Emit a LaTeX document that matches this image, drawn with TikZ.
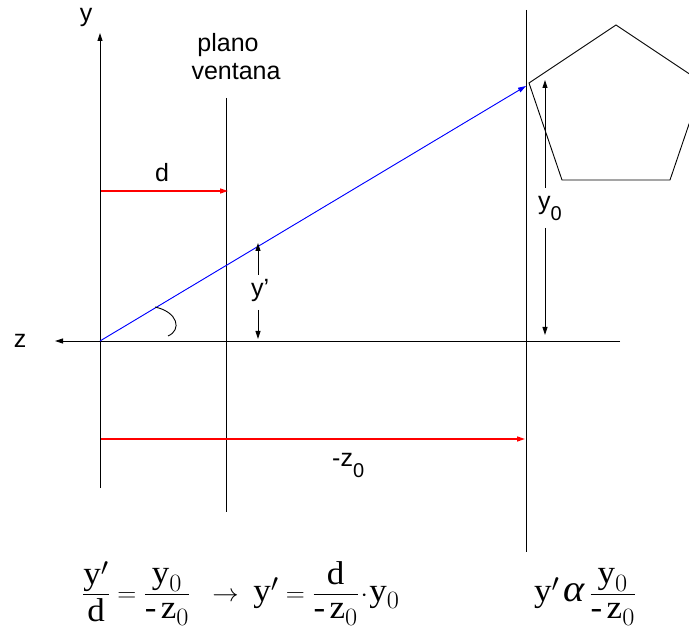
\documentclass[tikz,border=0pt]{standalone}
\usepackage{amsmath}
\usepackage{graphicx}
\usepackage{fontspec}
\setmainfont{Liberation Serif}
\newfontfamily\lab{Liberation Sans}
\usetikzlibrary{arrows.meta}
\newcommand\lsub[1]{\raisebox{-11pt}{\fontsize{20}{20}\selectfont #1}}
\newcommand\alf{\mbox{\fontsize{38}{38}\selectfont\itshape α}}
\begin{document}
\begin{tikzpicture}[x=1pt,y=-1pt,
  ln/.style={line width=0.9pt, draw=black},
  arr/.style={line width=0.9pt, -{Triangle[length=8pt,width=5pt]}},
  redarr/.style={arr, line width=1.4pt, draw=red, fill=red, color=red},
  bluearr/.style={arr, draw=blue, fill=blue, color=blue},
  lbl/.style={font=\lab\fontsize{25}{30}\selectfont, inner sep=0pt, anchor=base},
  frm/.style={font=\fontsize{33}{40}\selectfont, inner sep=0pt, anchor=base west}]
\useasboundingbox (0,0) rectangle (689,631);
% coordinates
\coordinate (O) at (100,341);
\coordinate (ytop) at (100,33);
\coordinate (ybot) at (100,488);
\coordinate (zl) at (55,341);
\coordinate (zr) at (620,341);
\coordinate (wt) at (226,98);
\coordinate (wb) at (226,512);
\coordinate (it) at (526,10);
\coordinate (ib) at (526,552);
\coordinate (P) at (526,86);
\coordinate (ds) at (101,191);
\coordinate (de) at (228,191);
\coordinate (zs) at (101,439);
\coordinate (ze) at (525,439);
\coordinate (ypa) at (258,275);
\coordinate (ypb) at (258,243);
\coordinate (ypc) at (258,310);
\coordinate (ypd) at (258,339);
\coordinate (y0a) at (545,188);
\coordinate (y0b) at (545,80);
\coordinate (y0c) at (545,228);
\coordinate (y0d) at (545,335);
% lines
\draw[arr] (ybot) -- (ytop);
\draw[arr] (zr) -- (zl);
\draw[ln] (wt) -- (wb);
\draw[ln] (it) -- (ib);
\draw[redarr] (ds) -- (de);
\draw[redarr] (zs) -- (ze);
\draw[bluearr] (O) -- (P);
\draw[ln] (155,307) .. controls (178,312) and (182,330) .. (168,336);
\draw[arr] (ypa) -- (ypb);
\draw[arr] (ypc) -- (ypd);
\draw[arr] (y0a) -- (y0b);
\draw[arr] (y0c) -- (y0d);
\begin{scope}
\clip (0,0) rectangle (689,631);
\draw[ln] (529,83) -- (616,25) -- (703,83) -- (670,180) -- (562,180) -- cycle;
\end{scope}
% labels
\node[lbl] (ly) at (86,22) {y};
\node[lbl] (lz) at (20,348) {z};
\node[lbl] (lpl) at (228,52) {plano};
\node[lbl] (lve) at (236,80) {ventana};
\node[lbl] (ld) at (162,182) {d};
\node[lbl, anchor=base west] (lyp) at (251,297) {y’};
\node[lbl, anchor=base west] (ly0) at (538,210) {y\lsub{0}};
\node[lbl, anchor=base west] (lz0) at (332,467) {-z\lsub{0}};
% formulas
\node[frm] (f1) at (82,601) {\scalebox{1.06}[1]{$\dfrac{\mathrm{y}'}{\mathrm{d}} = \dfrac{\mathrm{y}_0}{\mbox{-}\,\mathrm{z}_0}\;\;\to\;\mathrm{y}' = \dfrac{\mathrm{d}}{\mbox{-}\,\mathrm{z}_0}\!\cdot\!\mathrm{y}_0$}};
\node[frm] (f2) at (534,601) {\scalebox{1.06}[1]{$\mathrm{y}'\,\alf\,\dfrac{\mathrm{y}_0}{\mbox{-}\,\mathrm{z}_0}$}};
\end{tikzpicture}
\end{document}
